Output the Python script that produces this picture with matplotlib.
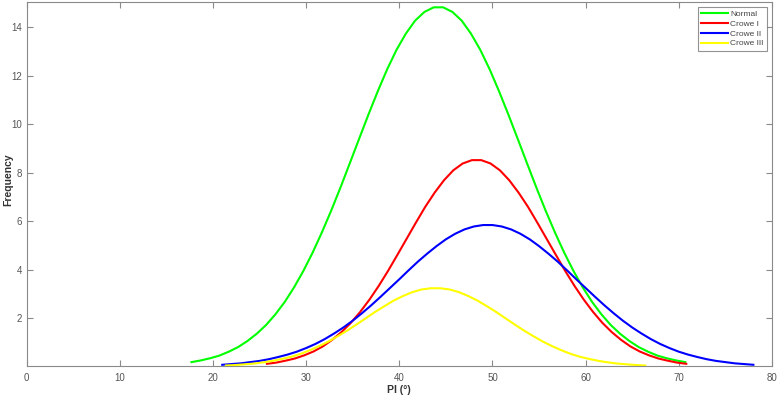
import numpy as np
import matplotlib
matplotlib.use("Agg")
import matplotlib.pyplot as plt

# curve samples (x = start + k, step 1)
normal_x0 = 17.7
normal_y = [0.18, 0.25, 0.34, 0.45, 0.61, 0.80, 1.05, 1.35, 1.71, 2.15, 2.66, 3.26, 3.94,
            4.70, 5.54, 6.44, 7.40, 8.40, 9.41, 10.41, 11.37, 12.27, 13.07, 13.74, 14.28,
            14.64, 14.83, 14.83, 14.64, 14.28, 13.74, 13.07, 12.27, 11.37, 10.41, 9.41,
            8.40, 7.40, 6.44, 5.54, 4.70, 3.94, 3.26, 2.66, 2.15, 1.71, 1.35, 1.05, 0.80,
            0.61, 0.45, 0.34, 0.25, 0.18]

crowe1_x0 = 25.8
crowe1_y = [0.11, 0.16, 0.24, 0.33, 0.46, 0.62, 0.83, 1.10, 1.42, 1.80, 2.25, 2.76, 3.33,
            3.95, 4.61, 5.28, 5.95, 6.60, 7.18, 7.69, 8.10, 8.38, 8.52, 8.52, 8.38, 8.10,
            7.69, 7.18, 6.60, 5.95, 5.28, 4.61, 3.95, 3.33, 2.76, 2.25, 1.80, 1.42, 1.10,
            0.83, 0.62, 0.46, 0.33, 0.24, 0.16, 0.11]

crowe2_x0 = 21.0
crowe2_y = [0.07, 0.10, 0.13, 0.18, 0.23, 0.30, 0.39, 0.49, 0.61, 0.76, 0.93, 1.13, 1.36,
            1.61, 1.89, 2.20, 2.53, 2.88, 3.24, 3.60, 3.97, 4.33, 4.66, 4.97, 5.25, 5.48,
            5.66, 5.78, 5.84, 5.84, 5.78, 5.66, 5.48, 5.25, 4.97, 4.66, 4.33, 3.97, 3.60,
            3.24, 2.88, 2.53, 2.20, 1.89, 1.61, 1.36, 1.13, 0.93, 0.76, 0.61, 0.49, 0.39,
            0.30, 0.23, 0.18, 0.13, 0.10, 0.07]

crowe3_x0 = 21.4
crowe3_y = [0.04, 0.06, 0.09, 0.12, 0.17, 0.23, 0.31, 0.40, 0.52, 0.67, 0.84, 1.03, 1.25,
            1.48, 1.73, 1.99, 2.25, 2.49, 2.72, 2.91, 3.07, 3.18, 3.23, 3.23, 3.18, 3.07,
            2.91, 2.72, 2.49, 2.25, 1.99, 1.73, 1.48, 1.25, 1.03, 0.84, 0.67, 0.52, 0.40,
            0.31, 0.23, 0.17, 0.12, 0.09, 0.06, 0.04]

labels = ["Normal", "Crowe I", "Crowe II", "Crowe III"]
colors = ["#00ff00", "#ff0000", "#0000ff", "#ffff00"]
xticks = [0, 10, 20, 30, 40, 50, 60, 70, 80]
yticks = [2, 4, 6, 8, 10, 12, 14]

plt.rcParams['font.family'] = ['Liberation Sans', 'DejaVu Sans']
axcol = '#8a8a8a'
txtcol = '#555555'

fig = plt.figure(figsize=(7.78, 3.95), dpi=100)
ax = fig.add_axes([0.0341, 0.0722, 0.9582, 0.924])

series = [(normal_x0, normal_y), (crowe1_x0, crowe1_y),
          (crowe2_x0, crowe2_y), (crowe3_x0, crowe3_y)]
for (x0, ys), lab, c in zip(series, labels, colors):
    xs = x0 + np.arange(len(ys))
    ax.plot(xs, ys, color=c, lw=1.5, label=lab)

ax.set_xlim(0, 80)
ax.set_ylim(0, 15.07)
ax.set_xticks(xticks)
ax.set_yticks(yticks)
ax.tick_params(direction='in', length=4.5, width=0.8, colors=axcol,
               labelcolor=txtcol, labelsize=7, top=True, right=True)
ax.tick_params(axis='x', pad=5)
ax.tick_params(axis='y', pad=3)
for sp in ax.spines.values():
    sp.set_color(axcol)
    sp.set_linewidth(0.8)

ax.set_xlabel('PI (°)', fontsize=7.5, fontweight='bold', color='#333333', labelpad=1)
fig.text(8 / 778, 1 - 180 / 395, 'Frequency', rotation=90, ha='center', va='center',
         fontsize=7.5, fontweight='bold', color='#333333')

leg = ax.legend(loc='upper right', fontsize=6, frameon=True, fancybox=False,
                handlelength=3.2, handletextpad=0.3, borderpad=0.4, labelspacing=0.25,
                borderaxespad=0.6)
leg.get_frame().set_edgecolor('#777777')
leg.get_frame().set_linewidth(0.8)
for t in leg.get_texts():
    t.set_color('#444444')

fig.savefig('out.png', dpi=100)
